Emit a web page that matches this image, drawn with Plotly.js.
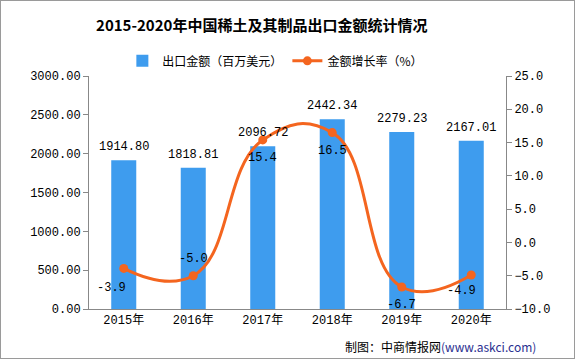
<!DOCTYPE html>
<html><head><meta charset="utf-8">
<script src="https://cdn.plot.ly/plotly-3.0.1.min.js"></script>
<style>html,body{margin:0;padding:0;background:#fff}#c{width:573px;height:357px;border:1px solid #9a9a9a}</style>
</head><body><div id="c"></div>
<script>
const years=['2015年','2016年','2017年','2018年','2019年','2020年'];
const exportValue=[1914.80,1818.81,2096.72,2442.34,2279.23,2167.01];
const growth=[-3.9,-5.0,15.4,16.5,-6.7,-4.9];
const barLabels=exportValue.map(v=>v.toFixed(2));
const lineLabels=growth.map(v=>v.toFixed(1));
const font="'Noto Sans CJK SC', 'DejaVu Sans', sans-serif";
const numFont="'Liberation Mono', 'Noto Sans CJK SC', monospace";
const anns=[];
const offs=[[-12,-20],[0,17],[0,-18],[0,-18],[0,-18],[-10,-16]];
growth.forEach((g,i)=>anns.push({x:years[i],y:g,xref:'x',yref:'y2',text:lineLabels[i],showarrow:false,xshift:offs[i][0],yshift:offs[i][1],font:{size:12,color:'#000',family:numFont}}));
exportValue.forEach((v,i)=>anns.push({x:years[i],y:v,xref:'x',yref:'y',text:barLabels[i],showarrow:false,yshift:13,font:{size:12,color:'#000',family:numFont}}));
const data=[
 {type:'bar',x:years,y:exportValue,name:'出口金额（百万美元）',marker:{color:'#3E9CEE'},width:0.36},
 {type:'scatter',mode:'lines+markers',x:years,y:growth,yaxis:'y2',name:'金额增长率（%）',line:{color:'#F4651F',width:3,shape:'spline',smoothing:1.3},marker:{color:'#F4651F',size:9}}
];
const layout={
 width:573,height:357,margin:{l:88,r:68,t:75,b:49},
 paper_bgcolor:'#fff',plot_bgcolor:'#fff',
 font:{family:font,size:12,color:'#000'},
 title:{text:'<b>2015-2020年中国稀土及其制品出口金额统计情况</b>',x:0.455,xanchor:'center',y:0.93,yanchor:'middle',font:{size:15,family:font,color:'#000'}},
 showlegend:true,
 legend:{orientation:'h',x:0.08,xanchor:'left',y:1.065,yanchor:'middle',font:{size:12,family:font},bgcolor:'rgba(0,0,0,0)'},
 xaxis:{type:'category',showline:true,linecolor:'#888',ticks:'',showgrid:false,tickfont:{size:12,family:numFont},zeroline:false},
 yaxis:{range:[0,3000],dtick:500,tickformat:'.2f',showline:true,linecolor:'#888',ticks:'outside',ticklen:5,tickcolor:'#888',showgrid:false,zeroline:false,tickfont:{size:12,family:numFont}},
 yaxis2:{overlaying:'y',side:'right',range:[-10,25],dtick:5,tickformat:'.1f',showline:true,linecolor:'#888',ticks:'outside',ticklen:5,tickcolor:'#888',showgrid:false,zeroline:false,tickfont:{size:12,family:numFont}},
 annotations:anns.concat([
  {xref:'paper',yref:'paper',x:1.077,y:-0.159,xanchor:'right',yanchor:'middle',showarrow:false,text:'制图：中商情报网<span style="color:#2B2F8F">(www.askci.com)</span>',font:{size:12,family:font,color:'#000'}}
 ])
};
Plotly.newPlot('c',data,layout,{displayModeBar:false,staticPlot:true});
</script></body></html>
